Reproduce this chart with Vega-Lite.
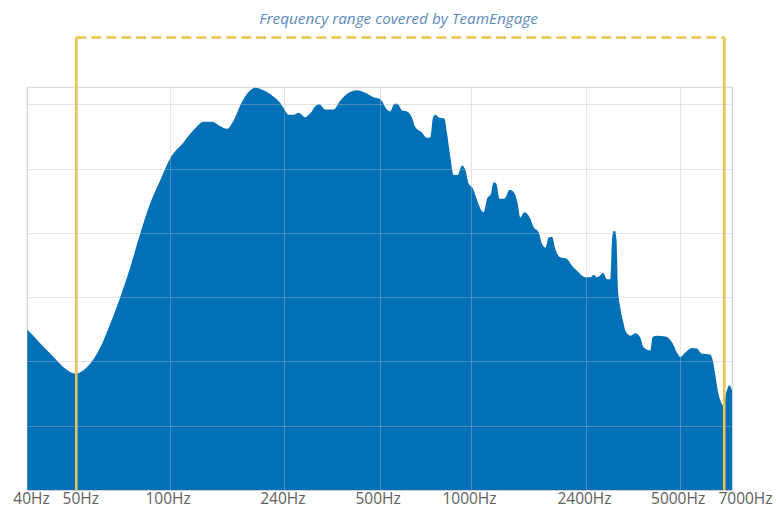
{
  "$schema": "https://vega.github.io/schema/vega-lite/v6.json",
  "autosize": {"type": "none"},
  "width": 705,
  "height": 403,
  "padding": {"left": 27, "top": 87, "right": 44, "bottom": 18},
  "background": "white",
  "title": {
    "text": "Frequency range covered by TeamEngage",
    "font": "Open Sans",
    "fontSize": 15.3,
    "fontStyle": "italic",
    "fontWeight": "normal",
    "color": "#5b8abb",
    "anchor": "middle",
    "frame": "group",
    "baseline": "alphabetic",
    "dx": 19,
    "offset": -3
  },
  "config": {
    "view": {"stroke": "#dcdcdc", "strokeWidth": 1.2},
    "axis": {"labelFont": "Open Sans", "titleFont": "Open Sans"}
  },
  "datasets": {
    "spectrum": [
      {"f": 40, "v": 2.5}, {"f": 42.5, "v": 2.28}, {"f": 45.1, "v": 2.07}, {"f": 47.9, "v": 1.87},
      {"f": 49.8, "v": 1.81}, {"f": 54.1, "v": 1.91}, {"f": 59.8, "v": 2.22}, {"f": 64.4, "v": 2.59},
      {"f": 69.3, "v": 3.0}, {"f": 74.7, "v": 3.47}, {"f": 80.4, "v": 3.99}, {"f": 86.6, "v": 4.46},
      {"f": 93.3, "v": 4.82}, {"f": 100.5, "v": 5.16}, {"f": 111.3, "v": 5.41}, {"f": 120.1, "v": 5.6},
      {"f": 129.7, "v": 5.73}, {"f": 138.2, "v": 5.73}, {"f": 147.3, "v": 5.66}, {"f": 155, "v": 5.62},
      {"f": 163, "v": 5.75}, {"f": 173.8, "v": 6.04}, {"f": 185.2, "v": 6.22}, {"f": 192.3, "v": 6.26},
      {"f": 204.9, "v": 6.22}, {"f": 221.2, "v": 6.12}, {"f": 232.8, "v": 6.02}, {"f": 238.8, "v": 5.94},
      {"f": 248.1, "v": 5.84}, {"f": 257.8, "v": 5.84}, {"f": 267.9, "v": 5.87}, {"f": 282.1, "v": 5.8},
      {"f": 293.2, "v": 5.86}, {"f": 304.7, "v": 5.97}, {"f": 314.3, "v": 6.0}, {"f": 329.1, "v": 5.92},
      {"f": 350.9, "v": 5.92}, {"f": 369.5, "v": 6.06}, {"f": 393.9, "v": 6.18}, {"f": 420.1, "v": 6.22},
      {"f": 447.9, "v": 6.18}, {"f": 477.3, "v": 6.11}, {"f": 502.7, "v": 6.08}, {"f": 528.8, "v": 5.92},
      {"f": 541.6, "v": 5.89}, {"f": 559.6, "v": 6.01}, {"f": 572.5, "v": 6.01}, {"f": 592, "v": 5.91},
      {"f": 614.9, "v": 5.89}, {"f": 638.6, "v": 5.8}, {"f": 654.8, "v": 5.65}, {"f": 689.9, "v": 5.56},
      {"f": 716.5, "v": 5.48}, {"f": 734.7, "v": 5.49}, {"f": 749.8, "v": 5.8}, {"f": 763, "v": 5.84},
      {"f": 788.3, "v": 5.79}, {"f": 816.9, "v": 5.78}, {"f": 833.8, "v": 5.55}, {"f": 855, "v": 5.18},
      {"f": 876.7, "v": 4.9}, {"f": 903.7, "v": 4.9}, {"f": 934.4, "v": 5.05}, {"f": 958, "v": 4.98},
      {"f": 982, "v": 4.77}, {"f": 1015, "v": 4.69}, {"f": 1047, "v": 4.51}, {"f": 1073, "v": 4.38},
      {"f": 1101, "v": 4.32}, {"f": 1130, "v": 4.53}, {"f": 1164, "v": 4.61}, {"f": 1188, "v": 4.79},
      {"f": 1212, "v": 4.77}, {"f": 1243, "v": 4.53}, {"f": 1289, "v": 4.53}, {"f": 1342, "v": 4.67},
      {"f": 1391, "v": 4.62}, {"f": 1426, "v": 4.46}, {"f": 1456, "v": 4.24}, {"f": 1501, "v": 4.32},
      {"f": 1571, "v": 4.22}, {"f": 1611, "v": 4.09}, {"f": 1673, "v": 4.01}, {"f": 1717, "v": 3.83},
      {"f": 1761, "v": 3.77}, {"f": 1805, "v": 3.93}, {"f": 1853, "v": 3.94}, {"f": 1900, "v": 3.75},
      {"f": 1973, "v": 3.62}, {"f": 2067, "v": 3.6}, {"f": 2158, "v": 3.49}, {"f": 2242, "v": 3.41},
      {"f": 2387, "v": 3.31}, {"f": 2482, "v": 3.31}, {"f": 2547, "v": 3.35}, {"f": 2616, "v": 3.31},
      {"f": 2685, "v": 3.34}, {"f": 2742, "v": 3.38}, {"f": 2830, "v": 3.28}, {"f": 2904, "v": 3.28},
      {"f": 2943, "v": 3.88}, {"f": 2973, "v": 4.02}, {"f": 3013, "v": 4.03}, {"f": 3051, "v": 3.88},
      {"f": 3080, "v": 3.16}, {"f": 3141, "v": 2.84}, {"f": 3183, "v": 2.69}, {"f": 3223, "v": 2.59},
      {"f": 3267, "v": 2.48}, {"f": 3397, "v": 2.4}, {"f": 3533, "v": 2.44}, {"f": 3675, "v": 2.37},
      {"f": 3771, "v": 2.22}, {"f": 3974, "v": 2.17}, {"f": 4046, "v": 2.38}, {"f": 4188, "v": 2.4},
      {"f": 4471, "v": 2.39}, {"f": 4711, "v": 2.3}, {"f": 4899, "v": 2.14}, {"f": 5022, "v": 2.07},
      {"f": 5186, "v": 2.14}, {"f": 5412, "v": 2.21}, {"f": 5588, "v": 2.2}, {"f": 5770, "v": 2.12},
      {"f": 6083, "v": 2.11}, {"f": 6189, "v": 2.01}, {"f": 6280, "v": 1.81}, {"f": 6414, "v": 1.5},
      {"f": 6555, "v": 1.34}, {"f": 6622, "v": 1.3}, {"f": 6737, "v": 1.5}, {"f": 6878, "v": 1.63},
      {"f": 7000, "v": 1.55}
    ],
    "sides": [
      {"f": 50, "v0": 0, "v1": 7.04},
      {"f": 6660, "v0": 0, "v1": 7.04}
    ],
    "top": [
      {"f0": 50, "f1": 6660, "v": 7.04}
    ]
  },
  "layer": [
    {
      "data": {"name": "spectrum"},
      "mark": {"type": "area", "color": "#0170b7", "interpolate": "monotone", "opacity": 1},
      "encoding": {
        "x": {
          "field": "f",
          "type": "quantitative",
          "scale": {
            "type": "log",
            "domain": [40, 50, 100, 240, 500, 1000, 2400, 5000, 7000],
            "range": [0, 49.3, 142.6, 257.3, 352.6, 444, 559, 652.6, 705],
            "nice": false
          },
          "axis": {
            "title": null,
            "values": [40, 50, 100, 240, 500, 1000, 2400, 5000, 7000],
            "labelExpr": "datum.value + 'Hz'",
            "labelFontSize": 15.5,
            "labelColor": "#606060",
            "labelPadding": 1,
            "labelOverlap": false,
            "labelFlush": false,
            "labelBound": false,
            "labelOffset": {"condition": [{"test": "datum.value == 7000", "value": 13}, {"test": "datum.value <= 50", "value": 4}], "value": -2},
            "ticks": false,
            "domain": false,
            "grid": true,
            "gridColor": "#bbbbbb",
            "gridOpacity": 0.4,
            "gridWidth": 1,
            "zindex": 1
          }
        },
        "y": {
          "field": "v",
          "type": "quantitative",
          "scale": {"domain": [0, 6.27], "nice": false, "zero": true},
          "axis": {
            "title": null,
            "values": [0, 1, 2, 3, 4, 5, 6],
            "labels": false,
            "ticks": false,
            "domain": false,
            "grid": true,
            "gridColor": "#bbbbbb",
            "gridOpacity": 0.4,
            "gridWidth": 1,
            "zindex": 1
          }
        }
      }
    },
    {
      "data": {"name": "sides"},
      "mark": {"type": "rule", "color": "#ecc34a", "strokeWidth": 2.6},
      "encoding": {
        "x": {"field": "f", "type": "quantitative"},
        "y": {"field": "v0", "type": "quantitative"},
        "y2": {"field": "v1"}
      }
    },
    {
      "data": {"name": "top"},
      "mark": {"type": "rule", "color": "#ecc34a", "strokeWidth": 2.6, "strokeDash": [10, 5]},
      "encoding": {
        "x": {"field": "f0", "type": "quantitative"},
        "x2": {"field": "f1"},
        "y": {"field": "v", "type": "quantitative"}
      }
    }
  ]
}
